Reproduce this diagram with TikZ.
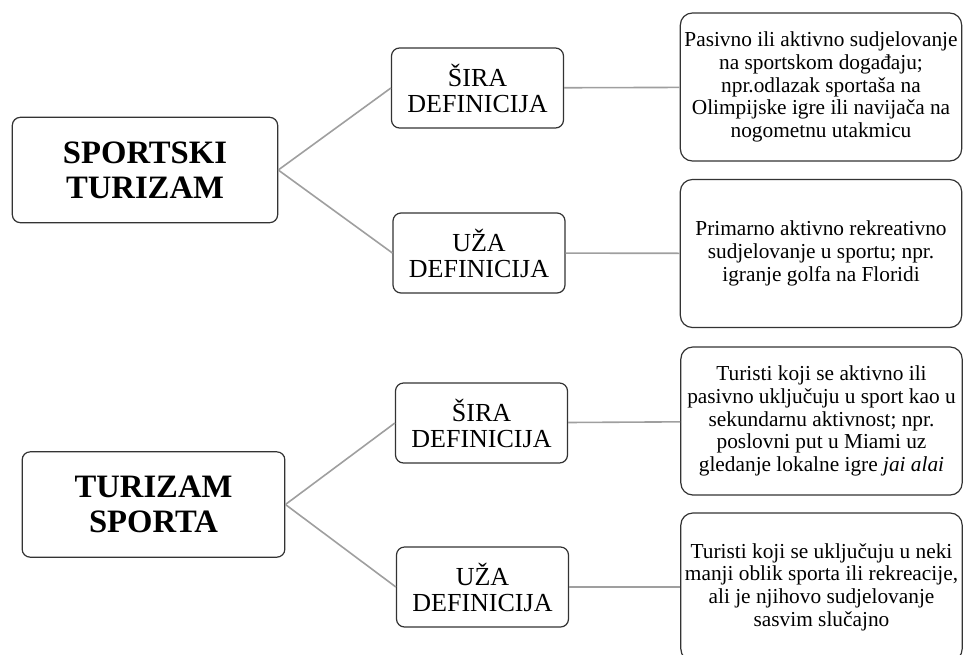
\documentclass[tikz,border=0pt]{standalone}
\usepackage{fontspec}
\setmainfont{Liberation Serif}
\tikzset{
  mainbox/.style={draw=black!80, line width=0.9pt, rounded corners=6pt,
    minimum width=199pt, minimum height=79pt, inner sep=0pt, align=center,
    font=\fontsize{24.5}{26}\selectfont\bfseries},
  defbox/.style={draw=black!80, line width=0.9pt, rounded corners=6pt,
    minimum width=129pt, minimum height=60pt, inner sep=0pt, align=center,
    font=\fontsize{19.5}{19.5}\selectfont},
  descbox/.style={draw=black!80, line width=0.9pt, rounded corners=9pt,
    minimum width=211pt, minimum height=111pt, inner sep=0pt, align=center,
    font=\fontsize{16}{17}\selectfont},
  link/.style={draw=gray!75, line width=1.2pt}
}

\begin{document}
\begin{tikzpicture}[x=0.75pt,y=-0.75pt]
    \useasboundingbox (0,0) rectangle (963,654);
    % left column
    \node[mainbox] (st) at (145,170) {SPORTSKI\\TURIZAM};
    \node[mainbox, minimum width=197pt] (ts) at (153.5,504.5) {TURIZAM\\SPORTA};
    % middle column
    \node[defbox] (sira1) at (477.5,88) {ŠIRA\\DEFINICIJA};
    \node[defbox] (uza1) at (479,253) {UŽA\\DEFINICIJA};
    \node[defbox] (sira2) at (481.5,423) {ŠIRA\\DEFINICIJA};
    \node[defbox] (uza2) at (482.5,587) {UŽA\\DEFINICIJA};
    % right column
    \node[descbox] (opis1) at (821,87) {Pasivno ili aktivno sudjelovanje\\na sportskom događaju;\\npr.odlazak sportaša na\\Olimpijske igre ili navijača na\\nogometnu utakmicu};
    \node[descbox] (opis2) at (821,253.5) {Primarno aktivno rekreativno\\sudjelovanje u sportu; npr.\\igranje golfa na Floridi};
    \node[descbox] (opis3) at (821.5,421) {Turisti koji se aktivno ili\\pasivno uključuju u sport kao u\\sekundarnu aktivnost; npr.\\poslovni put u Miami uz\\gledanje lokalne igre \textit{jai alai}};
    \node[descbox] (opis4) at (821.5,587) {Turisti koji se uključuju u neki\\manji oblik sporta ili rekreacije,\\ali je njihovo sudjelovanje\\sasvim slučajno};
    % connectors
    \draw[link] (st.east) -- (sira1.west);
    \draw[link] (st.east) -- (uza1.west);
    \draw[link] (ts.east) -- (sira2.west);
    \draw[link] (ts.east) -- (uza2.west);
    \draw[link] (sira1) -- (opis1);
    \draw[link] (uza1) -- (opis2);
    \draw[link] (sira2) -- (opis3);
    \draw[link] (uza2) -- (opis4);
\end{tikzpicture}
\end{document}
